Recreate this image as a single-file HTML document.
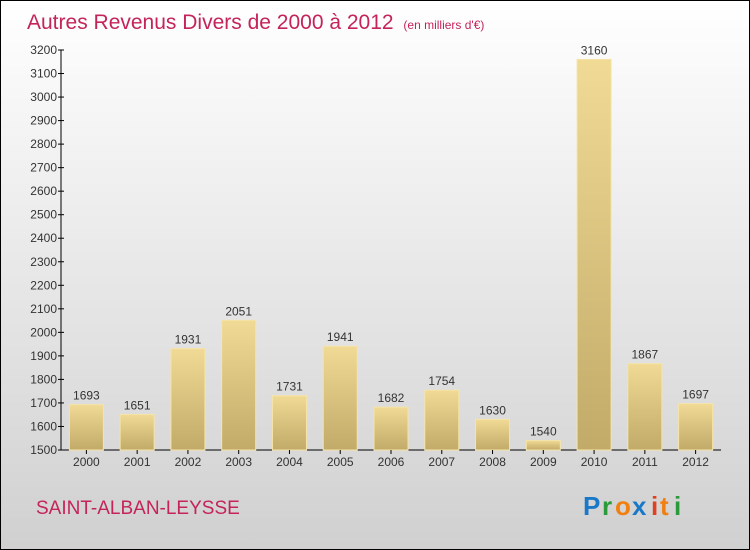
<!DOCTYPE html>
<html><head><meta charset="utf-8"><style>
body{margin:0;}
svg{display:block;font-family:"Liberation Sans",sans-serif;}
</style></head><body>
<svg width="750" height="550" viewBox="0 0 750 550">
<defs>
<linearGradient id="bg" x1="0" y1="0" x2="0" y2="1"><stop offset="0" stop-color="#ffffff"/><stop offset="1" stop-color="#d0d0d0"/></linearGradient>
<linearGradient id="bar" x1="0" y1="0" x2="0" y2="1"><stop offset="0" stop-color="#f0da95"/><stop offset="1" stop-color="#c2aa68"/></linearGradient>
</defs>
<rect x="0.5" y="0.5" width="749" height="549" fill="url(#bg)" stroke="#000"/>
<text x="27" y="29" font-size="21" fill="#c4245a" style="font-weight:300">Autres Revenus Divers de 2000 à 2012 <tspan font-size="12" dx="4">(en milliers d'€)</tspan></text>
<g id="yaxis"></g>
<g id="bars"></g>
<text x="36" y="514" font-size="19" fill="#c4245a">SAINT-ALBAN-LEYSSE</text>
<g font-size="26" font-weight="bold">
<text x="583" y="515" fill="#1a78c8">P</text><text x="602" y="515" fill="#2a9a3a">r</text><text x="615" y="515" fill="#f08010">o</text><text x="632" y="515" fill="#1a78c8">x</text><text x="651" y="515" fill="#e04020">i</text><text x="660" y="515" fill="#f08010">t</text><text x="674" y="515" fill="#2a9a3a">i</text>
</g>
</svg>
<script>
const categories=["2000","2001","2002","2003","2004","2005","2006","2007","2008","2009","2010","2011","2012"];
const values=[1693,1651,1931,2051,1731,1941,1682,1754,1630,1540,3160,1867,1697];
const yTicks=[1500,1600,1700,1800,1900,2000,2100,2200,2300,2400,2500,2600,2700,2800,2900,3000,3100,3200];
const NS="http://www.w3.org/2000/svg";
const yMin=1500,yMax=3200,plotTop=50,plotBot=450,plotLeft=61,plotRight=721;
const yS=v=>plotBot-(v-yMin)/(yMax-yMin)*(plotBot-plotTop);
const step=(plotRight-plotLeft)/categories.length;
const xc=i=>plotLeft+step*(i+0.5);
function mk(t,a,p){const e=document.createElementNS(NS,t);for(const k in a)e.setAttribute(k,a[k]);p.appendChild(e);return e;}
const ya=document.getElementById('yaxis');
const bg=document.getElementById('bars');
mk('line',{x1:plotLeft,y1:plotTop,x2:plotLeft,y2:plotBot,stroke:'#000'},ya);
mk('line',{x1:plotLeft,y1:plotBot,x2:plotRight,y2:plotBot,stroke:'#000'},ya);
yTicks.forEach(v=>{
 const ln=mk('line',{x1:plotLeft-3,x2:plotLeft+3,y1:yS(v),y2:yS(v),stroke:'#000'},ya);
 
 
 const t=mk('text',{x:plotLeft-4,y:yS(v)+4,'text-anchor':'end','font-size':12,fill:'#333'},ya);
 t.textContent=v;
 
 
});
const bw=34;
categories.forEach((c,i)=>{
 const r=mk('rect',{x:xc(i)-bw/2,y:yS(values[i]),width:bw,height:plotBot-yS(values[i]),fill:'url(#bar)',stroke:'#f5e4a8','stroke-width':1},bg);
 
 
 const v=mk('text',{x:xc(i),y:yS(values[i])-5,'text-anchor':'middle','font-size':12,fill:'#333'},bg);
 v.textContent=values[i];
 
 
 const tk=mk('line',{x1:xc(i),x2:xc(i),y1:plotBot,y2:plotBot+4,stroke:'#000'},bg);
 
 
 const t=mk('text',{x:xc(i),y:plotBot+16,'text-anchor':'middle','font-size':12,fill:'#333'},bg);
 t.textContent=c;
 
 
});
</script>
</body></html>
